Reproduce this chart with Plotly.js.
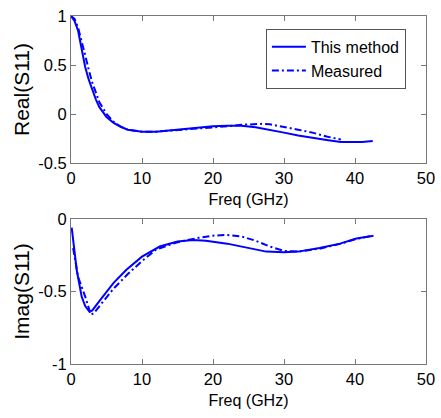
<!DOCTYPE html>
<html><head><meta charset="utf-8">
<script src="https://cdn.plot.ly/plotly-3.0.1.min.js"></script>
<style>html,body{margin:0;padding:0;background:#fff}</style>
</head><body><div id="g" style="width:441px;height:418px"></div>
<script>
var reFreqM = [0,0.5,1,1.5,2,2.5,3,3.5,4,5,6,7,8,9,10,12,14,16,18,20,22,24,26,28,30,32,34,36,38,40,41,42.5];
var reM = [1,0.95,0.85,0.68,0.48,0.35,0.24,0.15,0.07,-0.03,-0.09,-0.13,-0.16,-0.17,-0.18,-0.18,-0.165,-0.15,-0.135,-0.125,-0.12,-0.12,-0.135,-0.16,-0.19,-0.22,-0.245,-0.265,-0.285,-0.29,-0.285,-0.275];
var reFreqS = [0,0.5,1,1.5,2,2.5,3,3.5,4,5,6,7,8,9,10,12,14,16,18,20,22,24,26,27,28,30,32,34,36,38];
var reS = [1,0.97,0.88,0.75,0.6,0.45,0.32,0.22,0.12,0.0,-0.08,-0.13,-0.16,-0.17,-0.18,-0.18,-0.17,-0.16,-0.15,-0.14,-0.125,-0.11,-0.1,-0.1,-0.105,-0.13,-0.16,-0.19,-0.23,-0.26];
var imFreqM = [0.1,0.5,0.8,1.5,2,2.6,3,4.1,6,7.8,10,12.5,15,17.2,19,22,24.7,27.5,30,32,35,37.9,40.2,42.6];
var imM = [-0.06,-0.25,-0.35,-0.535,-0.6,-0.64,-0.63,-0.56,-0.44,-0.35,-0.26,-0.19,-0.155,-0.145,-0.15,-0.17,-0.195,-0.225,-0.23,-0.225,-0.2,-0.17,-0.135,-0.115];
var imFreqS = [0.3,1,2,2.8,3.2,4,6,8,10,12,15,18,20,22,24,26,28,30,32,35,38,40,42.5];
var imS = [-0.2,-0.4,-0.535,-0.66,-0.65,-0.6,-0.48,-0.38,-0.29,-0.21,-0.16,-0.13,-0.115,-0.11,-0.12,-0.15,-0.19,-0.22,-0.225,-0.205,-0.17,-0.14,-0.115];
var names = ['This method','Measured'];
var xTicks = [0,10,20,30,40,50];

var blue = '#0000ff';
var dd = '7px,3px,2px,3px';
var traces = [
 {x:reFreqM,y:reM,name:names[0],mode:'lines',line:{color:blue,width:2},xaxis:'x',yaxis:'y'},
 {x:reFreqS,y:reS,name:names[1],mode:'lines',line:{color:blue,width:2,dash:dd},xaxis:'x',yaxis:'y'},
 {x:imFreqM,y:imM,name:names[0],mode:'lines',line:{color:blue,width:2},xaxis:'x2',yaxis:'y2',showlegend:false},
 {x:imFreqS,y:imS,name:names[1],mode:'lines',line:{color:blue,width:2,dash:dd},xaxis:'x2',yaxis:'y2',showlegend:false}
];
var FAM = 'Liberation Sans, Arial, sans-serif';
function F(s){return {family:FAM,size:s,color:'#000'};}
function xa(anchor){return {range:[0,50],tickvals:xTicks,ticks:'inside',ticklen:5,tickcolor:'#777',showline:true,linecolor:'#777',linewidth:1,mirror:'ticks',showgrid:false,zeroline:false,anchor:anchor,tickfont:F(16.5),title:{text:'Freq (GHz)',font:F(16),standoff:8}};}
function ya(dom,rng,tv,tt,anchor,title){return {domain:dom,range:rng,tickvals:tv,ticktext:tt,ticks:'inside',ticklen:5,tickcolor:'#777',showline:true,linecolor:'#777',mirror:'ticks',showgrid:false,zeroline:false,anchor:anchor,tickfont:F(16.5),title:{text:title,font:F(21),standoff:2}};}
var layout = {
 width:441,height:418,margin:{l:71,r:15,t:16,b:54},
 paper_bgcolor:'#fff',plot_bgcolor:'#fff',
 font:F(16),
 xaxis:xa('y'),
 xaxis2:xa('y2'),
 yaxis:ya([0.5776,1],[-0.5,1],[-0.5,0,0.5,1],['-0.5','0','0.5','1'],'x','Real(S11)'),
 yaxis2:ya([0,0.4167],[-1,0],[-1,-0.5,0],['-1','-0.5','0'],'x2','Imag(S11)'),
 showlegend:true,
 legend:{x:0.549,y:0.963,xanchor:'left',yanchor:'top',bordercolor:'#555',borderwidth:1,bgcolor:'#fff',font:F(16),tracegroupgap:0,itemwidth:34}
};
Plotly.newPlot('g',traces,layout,{displayModeBar:false,staticPlot:true});
</script></body></html>
